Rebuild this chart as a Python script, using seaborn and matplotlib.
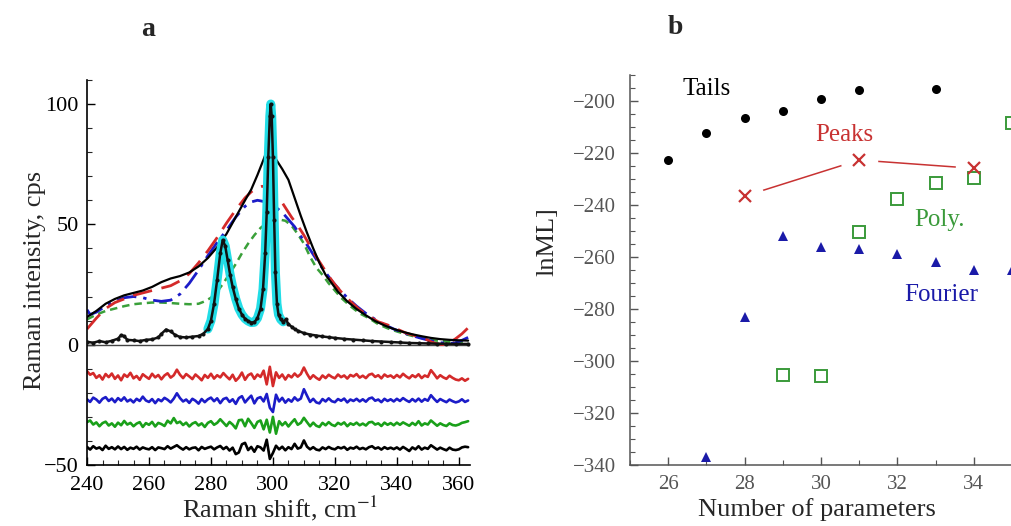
import numpy as np
import seaborn as sns
from matplotlib import pyplot as plt
from matplotlib.ticker import MultipleLocator

# ---- panel a: Raman spectrum and fitted backgrounds ----
tails_x = [240, 243, 246, 249, 252, 255, 258, 261, 264, 267, 270, 273, 276, 279, 282, 285, 288,
           291, 293, 295, 297, 298, 299, 300, 301, 303, 305, 307, 309, 311, 313, 315, 317, 319,
           321, 324, 327, 330, 333, 336, 339, 342, 345, 348, 351, 354, 357, 360, 363]
tails_y = [11.5, 14, 17, 19, 20.5, 21.5, 22.5, 24, 26, 27.5, 28.5, 30, 32.5, 36, 40.5, 46, 53,
           60, 64.5, 70.5, 77, 80.5, 82.5, 80, 77, 73, 68.5, 61, 53.5, 46.5, 40, 34,
           29, 25.5, 22, 18, 14.8, 12.2, 9.8, 8, 6.5, 5.3, 4.3, 3.5, 2.8, 2.3, 2, 1.8, 1.7]

peaks_fit_x = [240, 243, 246, 249, 252, 255, 258, 261, 264, 267, 270, 273, 276, 279, 282, 285,
               288, 291, 293, 295, 296.5, 298, 300, 302, 304, 306, 308, 310, 312, 314, 316, 318,
               320, 322, 325, 328, 331, 334, 337, 340, 343, 346, 349, 351, 353, 355, 357, 359,
               361, 363]
peaks_fit_y = [6.5, 11, 15, 17.5, 19, 20.5, 21.5, 22.5, 23.5, 24.5, 26.5, 29.5, 34, 39, 44.5, 50.5,
               56, 61, 63.5, 65.2, 65.8, 65.5, 63.5, 61, 57, 53, 49.5, 45.5, 41, 36.5, 32.5, 28.5,
               25, 22, 18, 14.5, 11.8, 9.5, 8.2, 6.5, 4.8, 3.7, 2.5, 1.2, 0.3, 0.0, 0.8, 2.5,
               4.5, 7]

fourier_fit_x = [240, 241, 243, 246, 249, 252, 255, 258, 261, 264, 267, 270, 273, 276, 279, 282,
                 285, 288, 291, 293, 295, 297, 299, 301, 303, 305, 307, 309, 311, 313, 315, 317,
                 319, 321, 324, 327, 330, 333, 336, 339, 342, 345, 348, 351, 354, 357, 359, 361, 363]
fourier_fit_y = [14.5, 12.5, 13.5, 16, 18, 19.5, 20, 19.5, 18.5, 18, 18.5, 21, 25.5, 31, 37, 42.5,
                 47.5, 53, 57.5, 59.3, 60, 59.5, 58.5, 57, 55, 52, 49, 45, 41.5, 37.5, 33.5, 30,
                 26.5, 23.5, 19.5, 16, 13, 10.5, 8.3, 6.5, 5, 3.7, 2.6, 1.6, 0.8, 0.5, 0.8, 1.8, 3]

poly_fit_x = [240, 243, 246, 249, 252, 255, 258, 261, 264, 267, 270, 273, 276, 278, 280, 282, 284,
              286, 288, 290, 292, 294, 296, 298, 300, 302, 304, 306, 308, 310, 312, 314, 316, 318,
              320, 322, 325, 328, 331, 334, 337, 340, 343, 346, 349, 352, 355, 358, 361, 363]
poly_fit_y = [10.5, 12.5, 14, 15, 16, 16.8, 17.2, 17.5, 17.5, 17.3, 17, 16.8, 17, 18, 19.5, 22, 25.5,
              29.5, 33.5, 38, 42, 45.5, 48.5, 50.5, 51.5, 52, 51.5, 49.5, 46, 42, 36.5, 32, 29, 25.5,
              22.5, 19.5, 16, 13, 11, 8.5, 6.8, 5.5, 4.3, 3.3, 2.5, 1.8, 1.4, 1.1, 1, 1]

spec_x = [240, 242, 244, 246, 248, 250, 251, 252, 253, 255, 257, 259, 261, 263, 264, 265.5, 267,
          268.5, 270, 272, 274, 276, 277.5, 279, 280, 281, 282, 283, 283.8, 284.6, 285.4, 286.2,
          287, 288, 289, 290, 291, 292, 293, 294, 295, 296, 296.8, 297.5, 298, 298.5, 299, 299.3,
          299.6, 300, 300.4, 300.8, 301.3, 301.8, 302.5, 303.3, 304.2, 305, 306, 307, 308, 310,
          312, 314, 316, 318, 320, 323, 326, 329, 332, 335, 338, 341, 344, 347, 350, 353, 356,
          359, 363]
spec_y = [1.2, 0.8, 1.5, 1.0, 1.6, 2.5, 4.0, 3.5, 2.0, 1.8, 1.5, 2.0, 2.2, 3.0, 4.5, 6.3, 5.5,
          4.0, 3.2, 3.0, 3.3, 3.6, 4.5, 6.5, 10, 17, 27, 38, 43.5, 41, 35, 29,
          24, 19, 15, 12.5, 10.8, 9.8, 9.2, 9.3, 11, 15, 23, 38, 55, 78, 95, 100,
          95, 78, 52, 30, 17, 12.5, 10.5, 9.5, 10.5, 8.5, 7.5, 6.5, 5.8, 4.8,
          4.2, 3.8, 3.4, 3.1, 2.8, 2.4, 2.1, 1.8, 1.5, 1.3, 1.1, 0.9, 0.7, 0.6, 0.5, 0.4, 0.4,
          0.3, 0.3]

# residuals (one value per cm^-1 from 240 to 363), shown shifted down
resid_start = 240
resid_offsets = [-13, -23, -33, -43]
resid_peaks = [2.0, 0.5, 1.2, -0.8, 0.3, -1.5, 0.8, -0.5, 1.0, -1.2,
               0.2, -1.8, 0.6, -0.4, 1.3, -1.0, 0.0, -1.6, 0.7, -0.3,
               -1.2, 0.9, -0.6, 0.4, -1.4, 0.2, 1.1, -0.7, 0.3, 2.6,
               0.5, -0.9, 0.8, -0.2, -1.3, 0.6, -0.5, -1.8, 0.4, -0.8,
               0.9, -1.1, 0.3, -0.6, 1.2, -0.2, -1.4, 0.5, -2.0, -0.7,
               1.4, -1.6, 0.3, 1.0, -1.2, 0.6, -0.4, 2.2, -3.5, 3.8,
               -4.2, 1.5, -0.8, 0.6, -1.5, 0.4, -0.6, 1.0, -0.3, 0.8,
               3.5, 0.9, -1.2, 0.3, -0.8, -1.6, 0.2, -0.9, 0.5, -0.4,
               -1.0, 0.6, -0.5, 0.2, -1.1, 0.4, -0.2, 0.8, -0.7, 0.1,
               -0.9, 0.5, 0.9, -0.4, 0.3, -1.0, 0.6, -0.3, 0.2, -0.8,
               0.4, -0.6, 0.9, -0.2, -1.0, 0.3, -0.5, 0.7, -0.9, 0.2,
               -0.4, 2.4, 0.8, -1.0, 0.3, -0.6, -1.2, 0.1, -0.8, -1.5,
               -1.8, -1.0, -2.0, -1.2]
resid_fourier = [0.3, -0.8, 1.0, 0.2, -1.1, 0.5, 1.2, -0.4, 0.6, -0.9,
                 0.8, -0.3, 1.1, -0.6, 0.2, -1.0, 0.5, -0.4, 1.4, -0.2,
                 -0.8, 0.4, -1.3, 0.3, -0.5, 0.9, 0.1, -1.0, 0.6, 2.8,
                 0.8, -0.6, 0.2, -1.2, 0.5, -0.3, -1.5, 0.4, -0.9, 0.3,
                 1.0, -0.5, 0.7, -1.3, 0.4, 0.9, -0.8, 0.3, -1.6, 0.8,
                 1.6, -1.0, 0.5, 1.8, -1.4, 0.7, 1.2, -0.6, 2.5, -3.2,
                 -5.0, 2.2, -0.6, 0.9, -1.1, 0.3, -0.7, 1.1, -0.2, 0.6,
                 4.5, 1.8, -0.8, 0.5, -1.0, -1.4, 0.4, -0.6, 0.7, -0.5,
                 -0.9, 0.4, -0.3, 0.6, -1.0, 0.2, -0.4, 0.5, -0.6, 0.3,
                 -0.7, 0.6, 1.0, -0.3, 0.2, -0.9, 0.5, -0.4, 0.3, -0.6,
                 0.5, -0.4, 0.8, -0.1, -0.8, 0.4, -0.6, 0.6, -0.7, 0.4,
                 -0.3, 2.0, 0.5, -0.8, 0.4, -0.3, -0.9, 0.2, -0.5, -1.0,
                 -0.6, 0.3, -0.8, -0.2]
resid_poly = [0.8, 1.5, -0.2, 0.7, -0.9, 0.4, 1.0, -0.6, 0.3, -1.1,
              0.6, -0.5, 1.3, -0.2, 0.5, -0.9, 0.2, 0.8, -1.2, 0.4,
              -0.3, 0.9, -1.0, 0.5, 0.0, -0.8, 1.4, 0.3, 2.5, 0.4,
              1.0, -0.4, 0.6, -1.0, 0.2, 0.8, -0.6, 0.3, -1.2, 0.5,
              1.2, -0.3, 0.5, 2.0, 0.6, -0.8, 0.9, -0.2, -1.8, 1.6,
              1.8, -0.9, 2.2, 0.4, -1.6, 0.9, 1.5, -2.2, 1.8, -3.5,
              3.0, -4.0, 1.2, -0.5, 0.8, -1.0, 0.6, 2.0, -0.3, 0.5,
              2.6, 0.8, -0.9, 0.6, -0.7, -1.2, 0.5, -0.5, 0.8, -0.3,
              -0.8, 0.5, -0.2, 0.7, -0.9, 0.3, -0.3, 0.6, -0.5, 0.2,
              -0.6, 0.7, 0.9, -0.2, 0.3, -0.8, 0.6, -0.3, 0.4, -0.5,
              0.6, -0.3, 0.7, 0.0, -0.7, 0.5, -0.4, 1.2, -0.6, 0.3,
              -0.2, 1.5, 0.4, -0.7, 0.3, -0.4, -0.8, 0.3, -0.4, -0.6,
              -0.2, 0.5, 0.8, 1.2]
resid_tails = [0.5, -0.6, 0.8, -0.2, 0.3, -0.8, 1.0, -0.3, 0.4, -0.5,
               0.7, -0.4, 0.5, -0.7, 0.2, -0.3, 0.6, -0.6, 0.3, -0.2,
               -0.5, 0.4, -0.8, 0.3, 0.0, -0.4, 0.8, -0.2, 0.5, 1.2,
               0.2, -0.6, 0.4, -0.5, 0.1, 0.3, -0.9, 0.5, -0.3, 0.2,
               0.6, -0.5, 0.3, 0.9, -0.4, 0.5, -1.0, 0.2, -2.5, -1.8,
               1.6, 2.2, -0.8, 0.5, -1.5, 0.8, 0.3, -1.0, 3.5, -4.5,
               -2.0, 1.0, -0.5, 0.6, -0.9, 0.4, -0.4, 1.8, -0.2, 0.3,
               3.2, 0.6, -0.5, 0.4, -0.6, -0.9, 0.3, -0.4, 0.5, -0.2,
               -0.5, 0.4, -0.1, 0.5, -0.7, 0.2, -0.2, 0.6, -0.4, 0.1,
               -0.5, 0.4, 0.8, -0.2, 0.3, -0.6, 0.4, -0.3, 0.2, -0.4,
               0.3, -0.6, 0.5, -0.3, -1.2, 0.3, -0.5, 0.8, -0.6, 0.2,
               -0.3, 1.2, 0.3, -0.6, 0.2, -0.4, -0.9, 0.2, -0.6, -0.8,
               -0.5, 0.3, 0.6, 0.4]

# ---- panel b: log marginal likelihood vs number of parameters ----
tails_n = [26, 27, 28, 29, 30, 31, 33]
tails_lnml = [-222.5, -212.2, -206.7, -203.8, -199.2, -195.8, -195.2]
peaks_n = [28, 31, 34]
peaks_lnml = [-236.6, -222.7, -225.9]
poly_n = [29, 30, 31, 32, 33, 34, 35]
poly_lnml = [-305.3, -305.7, -250.3, -237.5, -231.7, -229.5, -208.3]
fourier_n = [27, 28, 29, 30, 31, 32, 33, 34, 35]
fourier_lnml = [-336.8, -283.2, -252.0, -256.1, -256.9, -258.7, -262.0, -264.9, -264.9]

RED = "#d42a2a"
BLUE = "#1c1cc8"
GREEN = "#2f9a2f"
CYAN = "#22dde6"
PEAKS_RED = "#c83232"
POLY_GREEN = "#3a9a3a"
FOURIER_BLUE = "#1a1aa8"

sns.set_style("ticks")
plt.rcParams['font.family'] = ['Liberation Serif', 'DejaVu Serif']
plt.rcParams['mathtext.fontset'] = 'stix'
plt.rcParams['xtick.direction'] = 'in'
plt.rcParams['ytick.direction'] = 'in'

fig = plt.figure(figsize=(10.12, 5.26), dpi=100)
ax_a = fig.add_axes([0.086, 0.116, 0.3784, 0.732])
ax_b = fig.add_axes([0.6225, 0.116, 0.3775, 0.7414])

# panel a
ax_a.axhline(0, color="#444444", lw=1.0, zorder=1)
sns.lineplot(x=poly_fit_x, y=poly_fit_y, ax=ax_a, color="#3aa03a", lw=1.8,
             linestyle=(0, (3, 2)), sort=False, estimator=None)
sns.lineplot(x=fourier_fit_x, y=fourier_fit_y, ax=ax_a, color=BLUE, lw=2.0,
             linestyle=(0, (7, 2.5, 1.2, 2.5)), sort=False, estimator=None)
sns.lineplot(x=peaks_fit_x, y=peaks_fit_y, ax=ax_a, color=RED, lw=2.0,
             linestyle=(0, (7, 3.5)), sort=False, estimator=None)
sns.lineplot(x=tails_x, y=tails_y, ax=ax_a, color="black", lw=1.6, sort=False, estimator=None)

spec_x_arr = np.array(spec_x)
spec_y_arr = np.array(spec_y)
in_peaks = (spec_x_arr >= 279) & (spec_x_arr <= 303.5)
sns.lineplot(x=spec_x_arr[in_peaks], y=spec_y_arr[in_peaks], ax=ax_a, color=CYAN, lw=6.5,
             sort=False, estimator=None, zorder=3)
sns.lineplot(x=spec_x, y=spec_y, ax=ax_a, color="#111111", lw=1.8, marker="o", ms=2.2,
             mec="#111111", sort=False, estimator=None, zorder=4)

resid_x = np.arange(resid_start, resid_start + len(resid_peaks))
for vals, off, col in zip([resid_peaks, resid_fourier, resid_poly, resid_tails], resid_offsets,
                          [RED, BLUE, "#1aa01a", "black"]):
    sns.lineplot(x=resid_x, y=np.array(vals) + off, ax=ax_a, color=col, lw=1.9,
                 sort=False, estimator=None)

ax_a.set_xlim(240, 363.6)
ax_a.set_ylim(-50, 110)
ax_a.xaxis.set_major_locator(MultipleLocator(20))
ax_a.xaxis.set_minor_locator(MultipleLocator(5))
ax_a.set_yticks([-50, 0, 50, 100])
ax_a.yaxis.set_minor_locator(MultipleLocator(10))
ax_a.tick_params(which="major", length=6, width=1, labelsize=16, colors="black")
ax_a.tick_params(axis="x", which="major", pad=8)
ax_a.tick_params(axis="y", which="major", pad=6)
ax_a.tick_params(which="minor", length=3.5, width=0.8)
for s in ["top", "right"]:
    ax_a.spines[s].set_visible(False)
for s in ["left", "bottom"]:
    ax_a.spines[s].set_linewidth(1.2)
    ax_a.spines[s].set_color("black")
ax_a.set_xlabel("")
ax_a.set_ylabel("")
ax_a.text(0.504, -0.112, r"Raman shift, cm$^{-1}$", transform=ax_a.transAxes, ha="center",
          va="center", fontsize=19)
ax_a.text(-0.136, 0.48, "Raman intensity, cps", transform=ax_a.transAxes, ha="center",
          va="center", rotation=90, fontsize=19)
fig.text(148 / 1012, 1 - 30 / 526, "a", ha="center", va="center", fontsize=20, fontweight="bold")

# panel b
sns.lineplot(x=peaks_n, y=peaks_lnml, ax=ax_b, color=PEAKS_RED, lw=1.1, sort=False,
             estimator=None, zorder=2)
sns.lineplot(x=peaks_n, y=peaks_lnml, ax=ax_b, color="white", marker="o", ms=27, mew=0,
             linestyle="", sort=False, estimator=None, zorder=3)
sns.lineplot(x=tails_n, y=tails_lnml, ax=ax_b, color="black", marker="o", ms=6.5, mew=0,
             linestyle="", sort=False, estimator=None, zorder=4)
sns.lineplot(x=poly_n, y=poly_lnml, ax=ax_b, color=POLY_GREEN, marker="s", ms=8.5, mew=1.4,
             mfc="none", mec=POLY_GREEN, linestyle="", sort=False, estimator=None, zorder=4)
sns.lineplot(x=fourier_n, y=fourier_lnml, ax=ax_b, color=FOURIER_BLUE, marker="^", ms=6.5, mew=0,
             linestyle="", sort=False, estimator=None, zorder=4)
sns.lineplot(x=peaks_n, y=peaks_lnml, ax=ax_b, color=PEAKS_RED, marker="x", ms=8, mew=1.6,
             mec=PEAKS_RED, linestyle="", sort=False, estimator=None, zorder=5)

ax_b.set_xlim(25, 35.0)
ax_b.set_ylim(-340, -190)
ax_b.xaxis.set_major_locator(MultipleLocator(2))
ax_b.xaxis.set_minor_locator(MultipleLocator(1))
ax_b.yaxis.set_major_locator(MultipleLocator(20))
ax_b.yaxis.set_minor_locator(MultipleLocator(5))
ax_b.tick_params(which="major", length=6, width=1, labelsize=15, labelcolor="#555555",
                 color="#555555")
ax_b.tick_params(axis="y", which="major", pad=10)
ax_b.tick_params(axis="x", which="major", pad=7)
ax_b.tick_params(which="minor", length=3.5, width=0.8, color="#555555")
for s in ["top", "right"]:
    ax_b.spines[s].set_visible(False)
for s in ["left", "bottom"]:
    ax_b.spines[s].set_linewidth(1.1)
    ax_b.spines[s].set_color("#555555")
ax_b.set_xlabel("")
ax_b.set_ylabel("")
ax_b.text(0.49, -0.115, "Number of parameters", transform=ax_b.transAxes, ha="center",
          va="center", fontsize=19)
ax_b.text(-0.217, 0.572, "lnML]", transform=ax_b.transAxes, ha="center", va="center",
          rotation=90, fontsize=19)
ax_b.text(27.0, -195.5, "Tails", color="black", ha="center", va="center", fontsize=18, zorder=6)
ax_b.text(30.6, -213.2, "Peaks", color=PEAKS_RED, ha="center", va="center", fontsize=18, zorder=6)
ax_b.text(33.1, -245.6, "Poly.", color=POLY_GREEN, ha="center", va="center", fontsize=18, zorder=6)
ax_b.text(33.15, -274.5, "Fourier", color=FOURIER_BLUE, ha="center", va="center", fontsize=18,
          zorder=6)
fig.text(675 / 1012, 1 - 28 / 526, "b", ha="center", va="center", fontsize=20, fontweight="bold")

fig.savefig("out.png", dpi=100)
